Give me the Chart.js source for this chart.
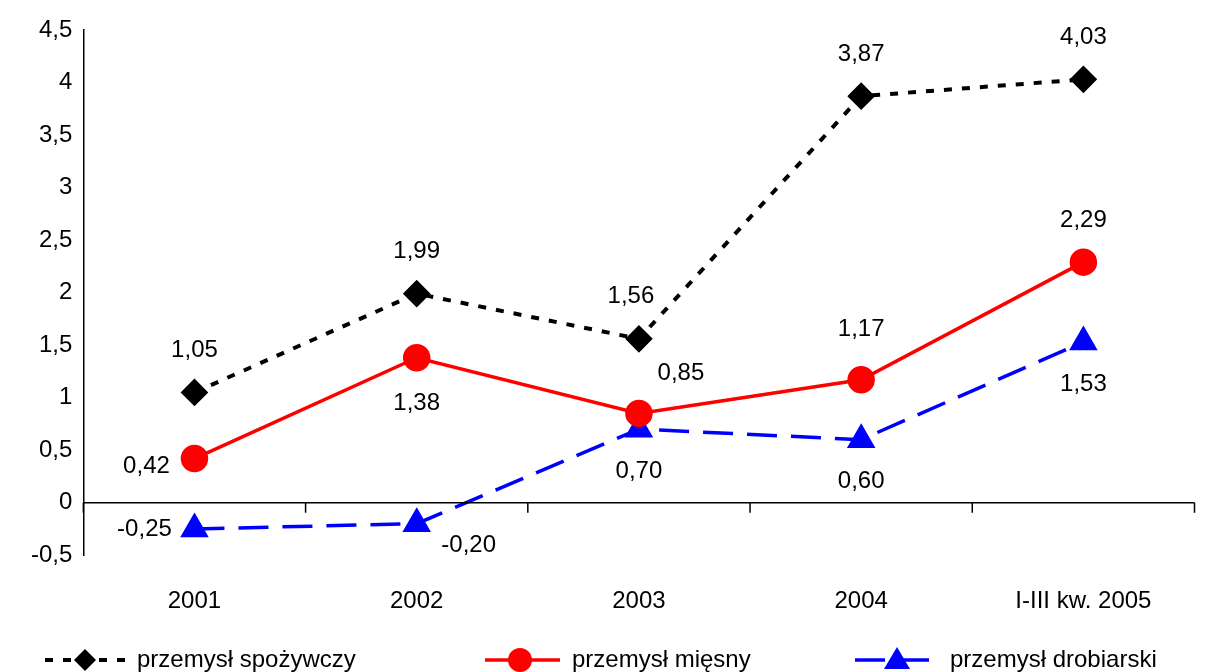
<!DOCTYPE html>
<html><head><meta charset="utf-8">
<script src="https://cdn.jsdelivr.net/npm/chart.js@4.4.0/dist/chart.umd.min.js"></script>
<style>body{margin:0;background:#fff}#wrap{width:1211px;height:672px}</style>
</head><body><div id="wrap"><canvas id="c"></canvas></div>
<script>
// ── DATA ─────────────────────────────
const kategorie = ['2001', '2002', '2003', '2004', 'I-III kw. 2005'];
const spozywczy = [1.05, 1.99, 1.56, 3.87, 4.03];
const miesny = [0.42, 1.38, 0.85, 1.17, 2.29];
const drobiarski = [-0.25, -0.20, 0.70, 0.60, 1.53];
const nazwy = ['przemysł spożywczy', 'przemysł mięsny', 'przemysł drobiarski'];
// label offsets [dx, dy] per point
const offsety = [
  [[0, -42], [0, -42], [-8, -42], [0, -42], [0, -42]],
  [[-48, 8], [0, 46], [42, -40], [0, -50], [0, -42]],
  [[-50, 0], [52, 22], [0, 42], [0, 42], [0, 42]]
];
const FONT = '24px "Liberation Sans", Arial, sans-serif';
const fmt = v => v.toFixed(2).replace('.', ',');

const extras = {
  id: 'extras',
  afterDraw(chart) {
    const ctx = chart.ctx, x = chart.scales.x, y = chart.scales.y;
    const y0 = y.getPixelForValue(0);
    ctx.save();
    ctx.strokeStyle = '#000'; ctx.lineWidth = 1.5; ctx.setLineDash([]);
    ctx.beginPath(); ctx.moveTo(x.left, y0); ctx.lineTo(x.right, y0);
    const step = (x.right - x.left) / kategorie.length;
    for (let i = 0; i <= kategorie.length; i++) {
      const px = x.left + i * step;
      ctx.moveTo(px, y0); ctx.lineTo(px, y0 + 10);
    }
    ctx.stroke();
    ctx.font = FONT; ctx.fillStyle = '#000'; ctx.textAlign = 'center'; ctx.textBaseline = 'middle';
    [spozywczy, miesny, drobiarski].forEach((arr, d) => {
      arr.forEach((v, i) => {
        const o = offsety[d][i];
        ctx.fillText(fmt(v), x.getPixelForValue(i) + o[0], y.getPixelForValue(v) + o[1]);
      });
    });
    // legend
    const ly = 660;
    const items = [[45, 125, 85, 137], [485, 560, 520, 572], [855, 935, 897, 950]];
    chart.data.datasets.forEach((ds, i) => {
      const it = items[i];
      ctx.strokeStyle = ds.borderColor; ctx.lineWidth = ds.borderWidth;
      ctx.setLineDash(ds.borderDash || []);
      ctx.beginPath(); ctx.moveTo(it[0], ly); ctx.lineTo(it[1], ly); ctx.stroke();
      ctx.setLineDash([]);
      ctx.fillStyle = ds.pointBackgroundColor;
      ctx.beginPath();
      const r = ds.pointRadius;
      if (ds.pointStyle === 'circle') ctx.arc(it[2], ly, r, 0, Math.PI * 2);
      else if (ds.pointStyle === 'rectRot') { ctx.moveTo(it[2], ly - r); ctx.lineTo(it[2] + r, ly); ctx.lineTo(it[2], ly + r); ctx.lineTo(it[2] - r, ly); }
      else { ctx.moveTo(it[2], ly - r); ctx.lineTo(it[2] + r, ly + r * 0.7); ctx.lineTo(it[2] - r, ly + r * 0.7); }
      ctx.closePath(); ctx.fill();
      ctx.fillStyle = '#000'; ctx.textAlign = 'left';
      ctx.fillText(nazwy[i], it[3], ly);
    });
    ctx.restore();
  }
};

new Chart(document.getElementById('c'), {
  type: 'line',
  data: {
    labels: kategorie,
    datasets: [
      { label: nazwy[0], data: spozywczy, borderColor: '#000', borderWidth: 4, borderDash: [8, 10],
        pointStyle: 'rectRot', pointRadius: 11, pointBackgroundColor: '#000', pointBorderColor: '#000' },
      { label: nazwy[1], data: miesny, borderColor: '#ff0000', borderWidth: 3.5,
        pointStyle: 'circle', pointRadius: 12, pointBackgroundColor: '#ff0000', pointBorderColor: '#ff0000' },
      { label: nazwy[2], data: drobiarski, borderColor: '#0000ff', borderWidth: 3.5, borderDash: [30, 14],
        pointStyle: 'triangle', pointRadius: 13, pointBackgroundColor: '#0000ff', pointBorderColor: '#0000ff' }
    ]
  },
  options: {
    responsive: true, maintainAspectRatio: false, animation: false,
    layout: { padding: { top: 30, right: 15, bottom: 24, left: 28 } },
    plugins: { legend: { display: false }, tooltip: { enabled: false } },
    scales: {
      x: { offset: true, grid: { display: false, drawTicks: false }, border: { display: false },
           ticks: { color: '#000', font: { size: 24, family: '"Liberation Sans", Arial' }, padding: 32, maxRotation: 0 } },
      y: { min: -0.5, max: 4.5, grid: { display: false }, border: { color: '#000', width: 1.5 },
           ticks: { stepSize: 0.5, color: '#000', font: { size: 24, family: '"Liberation Sans", Arial' },
                    callback: v => String(v).replace('.', ',') } }
    }
  },
  plugins: [extras]
});
</script></body></html>
